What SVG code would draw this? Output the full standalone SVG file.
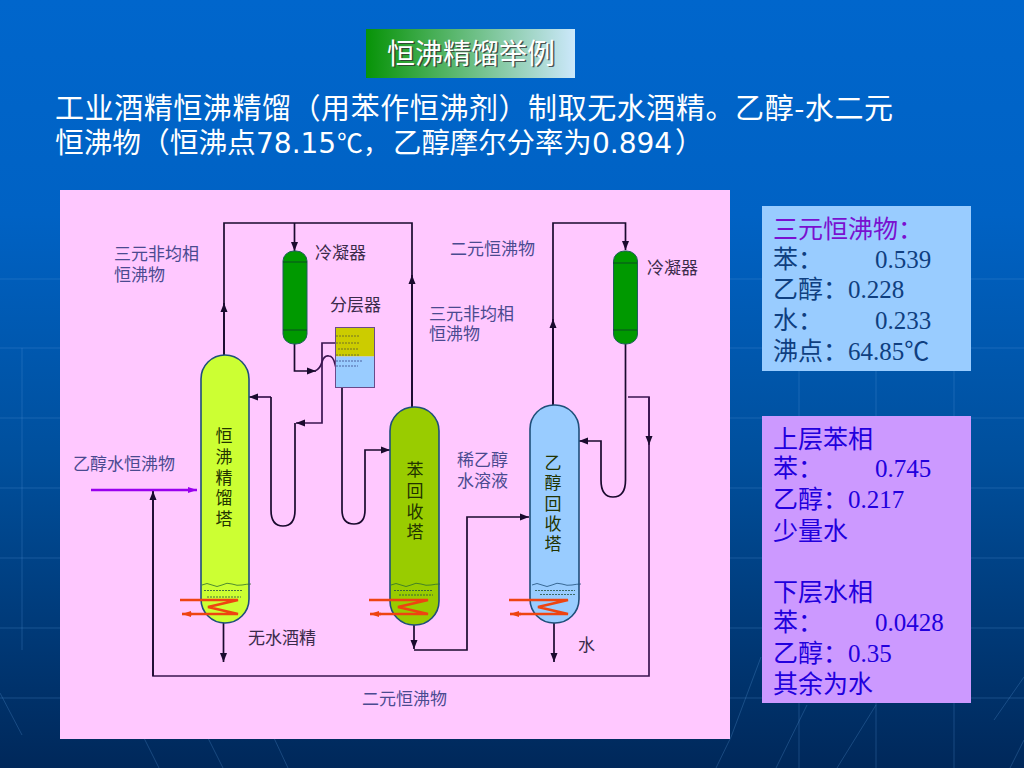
<svg xmlns="http://www.w3.org/2000/svg" width="1024" height="768" viewBox="0 0 1024 768">
<defs>
<linearGradient id="bg" x1="0" y1="0" x2="0" y2="1"><stop offset="0" stop-color="#0066cc"/><stop offset="0.28" stop-color="#0062c4"/><stop offset="0.6" stop-color="#004f9c"/><stop offset="1" stop-color="#00285a"/></linearGradient>
<linearGradient id="tg" x1="0" y1="0" x2="1" y2="0"><stop offset="0" stop-color="#079307"/><stop offset="1" stop-color="#cce8fb"/></linearGradient>
<marker id="a" markerUnits="userSpaceOnUse" markerWidth="10" markerHeight="8" refX="9" refY="4" orient="auto"><path d="M0 0.5L9 4L0 7.500Z" fill="#1a0a2e"/></marker>
<marker id="p" markerUnits="userSpaceOnUse" markerWidth="10" markerHeight="8" refX="9" refY="4" orient="auto"><path d="M0 1L9 4L0 7Z" fill="#9900ee"/></marker>
<marker id="r" markerUnits="userSpaceOnUse" markerWidth="10" markerHeight="8" refX="9" refY="4" orient="auto"><path d="M0 1L9 4L0 7Z" fill="#ee4411"/></marker>
<path id="liq" d="M0 0q5-3 10 0t10 0t10-1t10 1t9-1" fill="none" stroke-width="0.8"/>
</defs>
<style>
text{font-family:"Liberation Serif","Noto Sans CJK SC",serif}
.lbl{font-size:17px;fill:#4a4a90}
.dk{font-size:17px;fill:#3a2a4a}
.tw{font-size:17px;fill:#223300;text-anchor:middle}
.info{font-size:25px}
.head{font-size:29px;fill:#fff}
.cjk{font-family:"Noto Sans CJK SC",sans-serif}
.num{font-family:"DejaVu Sans",sans-serif;font-size:28px}
.ln{fill:none;stroke:#1a0a2e;stroke-width:1.7}
.ln2{fill:none;stroke:#3a1550;stroke-width:1.7}
.tower{stroke:#1f4f7a;stroke-width:1.6}
.cond{fill:#009900;stroke:#1f5f5a;stroke-width:1}
.heat{fill:none;stroke:#ee4411;stroke-width:2.6}
.dash{fill:none;stroke:#245040;stroke-width:0.8;stroke-dasharray:2 1}
</style>
<rect width="1024" height="768" fill="url(#bg)"/>
<g stroke="#5a9ad8" stroke-opacity="0.28" stroke-width="1" fill="none">
<path d="M0 279H1024M0 348H1024M0 418H1024M0 488H1024M0 558H1024M0 628H1024M0 698H1024"/>
<path d="M799 348V768M876 348V768M954 348V768M22 348V650"/>
<path d="M0 693L22 735M144 738L159 768M208 738L223 768M274 738L288 768M761 657L731 737L716 768M807 705L776 768M876 705L837 768M1024 677L994 720M1024 740L1010 768"/>
</g>
<g id="title"><rect x="366" y="29" width="209" height="49" fill="url(#tg)"/>
<text class="cjk" x="388.500" y="65" font-size="28" fill="#333" opacity="0.8">恒沸精馏举例</text>
<text class="cjk" x="387" y="63.500" font-size="28" fill="#fff">恒沸精馏举例</text></g>
<g id="intro">
<text class="head cjk" x="55" y="119" textLength="838">工业酒精恒沸精馏（用苯作恒沸剂）制取无水酒精。乙醇-水二元</text>
<text class="head cjk" y="153"><tspan x="55" font-size="28.7">恒沸物（恒沸点</tspan><tspan class="num" x="256">78.15</tspan><tspan x="337" font-size="26">℃，</tspan><tspan x="393" font-size="28.4">乙醇摩尔分率为</tspan><tspan class="num" x="592">0.894</tspan><tspan x="675" font-size="28.4">）</tspan></text>
</g>
<rect id="panel" x="60" y="190" width="670" height="549" fill="#ffc8ff"/>
<g id="connectors">
<path class="ln" d="M224 355V223H412V407"/>
<path class="ln" d="M224 355V303" marker-end="url(#a)"/>
<path class="ln" d="M412 407V275" marker-end="url(#a)"/>
<path class="ln" d="M294.500 223V251" marker-end="url(#a)"/>
<path class="ln" d="M294.500 344V371H316" marker-end="url(#a)"/>
<path class="ln" d="M553 405V223H625.500V250" marker-end="url(#a)"/>
<path class="ln" d="M553 405V319" marker-end="url(#a)"/>
<path class="ln2" d="M315 371Q320 369 322 362Q324 355 329 356Q333 356 335 364Q337 371 336 371"/>
<path class="ln2" d="M335 343H322V423H296" marker-end="url(#a)"/>
<path class="ln2" d="M271 397H249" marker-end="url(#a)"/>
<path class="ln" d="M271 397V510Q271 526 283 526Q295 526 295 510V423"/>
<path class="ln" d="M342 388V510Q342 524 354 524Q365 524 365 510V450H390" marker-end="url(#a)"/>
<path class="ln" d="M625.500 344V480Q625.500 497 613 497Q601 497 601 480V441H579" marker-end="url(#a)"/>
<path class="ln2" d="M628 397H649V676H153V491"/>
<path class="ln2" d="M649 397V445" marker-end="url(#a)"/>
<path class="ln" d="M153 676V491" marker-end="url(#a)"/>
<path d="M91 490H197" fill="none" stroke="#9900ee" stroke-width="2.4" marker-end="url(#p)"/>
<path class="ln" d="M223.500 623V662" marker-end="url(#a)"/>
<path class="ln" d="M414 624V649" marker-end="url(#a)"/>
<path class="ln" d="M414 650H467V517H529" marker-end="url(#a)"/>
<path class="ln" d="M554 623V662" marker-end="url(#a)"/>
</g>
<g id="tower1"><rect class="tower" x="201" y="355" width="48" height="268" rx="24" ry="24" fill="#ccff33"/>
<use href="#liq" x="202" y="585" stroke="#2f6f2f"/>
<path class="dash" d="M204 590.500H243M207 597H241"/>
<path class="heat" d="M180 600H238L208 607L238 614H190"/><path d="M192 614H182" class="heat" marker-end="url(#r)"/>
<text class="tw"><tspan x="224" y="442">恒</tspan><tspan x="224" y="463">沸</tspan><tspan x="224" y="484">精</tspan><tspan x="224" y="504">馏</tspan><tspan x="224" y="525">塔</tspan></text></g>
<g id="tower2"><rect class="tower" x="390" y="407" width="49" height="218" rx="24" ry="24" fill="#99cc00"/>
<use href="#liq" x="391" y="585" stroke="#2f6f2f"/>
<path class="dash" d="M394 590.500H433M399 595H433"/>
<path class="heat" d="M369 600H428L398 607L428 614H379"/><path d="M381 614H370" class="heat" marker-end="url(#r)"/>
<text class="tw"><tspan x="415" y="476">苯</tspan><tspan x="415" y="497">回</tspan><tspan x="415" y="518">收</tspan><tspan x="415" y="538">塔</tspan></text></g>
<g id="tower3"><rect class="tower" x="530" y="405" width="49" height="218" rx="24" ry="24" fill="#99ccff"/>
<use href="#liq" x="532" y="585" stroke="#1f4f7a"/>
<path class="dash" d="M535 590.500H575M540 594.500H575"/>
<path class="heat" d="M509 600H568L538 607L568 614H519"/><path d="M521 614H510" class="heat" marker-end="url(#r)"/>
<text class="tw"><tspan x="553" y="469">乙</tspan><tspan x="553" y="489">醇</tspan><tspan x="553" y="510">回</tspan><tspan x="553" y="530">收</tspan><tspan x="553" y="550">塔</tspan></text></g>
<g id="condenser1"><rect class="cond" x="283" y="251" width="24" height="93" rx="11" ry="10"/><path d="M283 262H307M283 330H307" stroke="#0d3a2a" stroke-width="0.8"/></g>
<g id="condenser2"><rect class="cond" x="613.500" y="251" width="24" height="93" rx="11" ry="10"/><path d="M613 263H637M613 330H637" stroke="#0d3a2a" stroke-width="0.8"/></g>
<g id="separator"><rect x="335.500" y="327.500" width="39" height="29" fill="#cccc00"/><rect x="335.500" y="356.500" width="39" height="31" fill="#99ccff"/><rect x="335.500" y="327.500" width="39" height="60" fill="none" stroke="#6a4a8a" stroke-width="1"/>
<path d="M336 336H360M336 343H360M338 349H358M336 355H360" fill="none" stroke="#5a5a30" stroke-width="0.8" stroke-dasharray="2 1"/>
<path d="M336 361H363M336 366H358" fill="none" stroke="#3a4a8a" stroke-width="0.8" stroke-dasharray="2 1"/></g>
<g id="labels">
<text class="lbl"><tspan x="114" y="260">三元非均相</tspan><tspan x="114" y="281">恒沸物</tspan></text>
<text class="dk" x="315" y="259">冷凝器</text>
<text class="dk" x="330" y="311">分层器</text>
<text class="lbl" x="450" y="255">二元恒沸物</text>
<text class="dk" x="647" y="274">冷凝器</text>
<text class="lbl"><tspan x="429" y="320">三元非均相</tspan><tspan x="429" y="340">恒沸物</tspan></text>
<text class="lbl" x="73" y="470">乙醇水恒沸物</text>
<text class="lbl"><tspan x="457" y="466">稀乙醇</tspan><tspan x="457" y="487">水溶液</tspan></text>
<text class="dk" x="248" y="644">无水酒精</text>
<text class="dk" x="578" y="651">水</text>
<text class="lbl" x="362" y="705">二元恒沸物</text>
</g>
<g id="box1"><rect x="762" y="206" width="209" height="165" fill="#99ccff"/>
<text class="info" fill="#0f3f80"><tspan x="773" y="238" fill="#7a10d0">三元恒沸物：</tspan><tspan x="773" y="268">苯：</tspan><tspan x="875" y="268">0.539</tspan><tspan x="773" y="298">乙醇：0.228</tspan><tspan x="773" y="329">水：</tspan><tspan x="875" y="329">0.233</tspan><tspan x="773" y="360">沸点：64.85℃</tspan></text></g>
<g id="box2"><rect x="762" y="416" width="209" height="287" fill="#cc99ff"/>
<text class="info" fill="#2200dd"><tspan x="773" y="448">上层苯相</tspan><tspan x="773" y="477">苯：</tspan><tspan x="875" y="477">0.745</tspan><tspan x="773" y="508">乙醇：0.217</tspan><tspan x="773" y="540">少量水</tspan><tspan x="773" y="601">下层水相</tspan><tspan x="773" y="631">苯：</tspan><tspan x="875" y="631">0.0428</tspan><tspan x="773" y="662">乙醇：0.35</tspan><tspan x="773" y="693">其余为水</tspan></text></g>
</svg>
